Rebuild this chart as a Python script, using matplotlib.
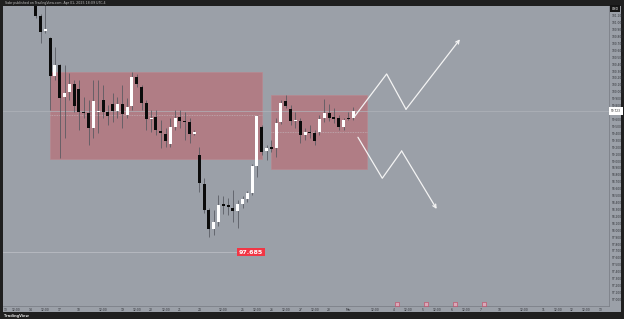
import numpy as np
import matplotlib
matplotlib.use("Agg")
import matplotlib.pyplot as plt
from matplotlib.patches import Rectangle

# 4h candles, oldest first
opens = [101.37, 101.096, 100.879, 100.778, 100.229, 100.388, 99.925, 99.998, 100.113, 100.041,
         99.709, 99.694, 99.477, 99.709, 99.882, 99.709, 99.824, 99.723, 99.824, 99.665,
         99.795, 100.214, 100.07, 99.839, 99.608, 99.636, 99.434, 99.391, 99.246, 99.492,
         99.636, 99.579, 99.564, 99.391, 99.087, 98.668, 98.292, 98.018, 98.119, 98.379,
         98.365, 98.321, 98.278, 98.379, 98.451, 98.538, 98.928, 99.492, 99.145, 99.203,
         99.188, 99.564, 99.868, 99.752, 99.579, 99.579, 99.376, 99.42, 99.405, 99.42,
         99.622, 99.694, 99.636, 99.622, 99.492, 99.622, 99.622]
highs = [101.40, 101.125, 101.255, 100.792, 100.648, 100.40, 100.388, 100.272, 100.171, 100.171,
         99.925, 99.882, 100.171, 100.171, 100.099, 99.81, 99.983, 99.925, 100.099, 99.911,
         100.287, 100.258, 100.099, 99.882, 99.738, 99.738, 99.593, 99.477, 99.622, 99.738,
         99.738, 99.709, 99.622, 99.449, 99.203, 98.755, 98.321, 98.292, 98.509, 98.495,
         98.466, 98.581, 98.437, 98.495, 98.567, 98.957, 99.665, 99.52, 99.232, 99.304,
         99.622, 99.882, 99.954, 99.81, 99.709, 99.622, 99.477, 99.52, 99.449, 99.665,
         99.897, 99.824, 99.766, 99.665, 99.622, 99.709, 99.781]
lows = [101.067, 100.706, 100.85, 99.738, 100.171, 99.044, 99.333, 99.882, 99.709, 99.449,
        99.62, 99.232, 99.333, 99.405, 99.622, 99.52, 99.564, 99.622, 99.477, 99.622,
        99.738, 100.07, 99.738, 99.449, 99.42, 99.376, 99.188, 99.203, 99.203, 99.449,
        99.477, 99.305, 99.261, 99.376, 98.553, 98.25, 97.902, 97.931, 98.061, 98.235,
        98.22, 98.119, 98.032, 98.321, 98.408, 98.509, 98.769, 99.087, 99.015, 99.131,
        99.058, 99.535, 99.766, 99.52, 99.477, 99.261, 99.304, 99.333, 99.232, 99.376,
        99.564, 99.579, 99.55, 99.449, 99.449, 99.593, 99.593]
closes = [101.096, 100.865, 100.908, 100.229, 100.388, 99.911, 99.983, 100.113, 99.795, 99.709,
          99.694, 99.477, 99.868, 99.72, 99.709, 99.651, 99.723, 99.824, 99.68, 99.781,
          100.214, 100.113, 99.839, 99.608, 99.622, 99.449, 99.405, 99.29, 99.492, 99.622,
          99.579, 99.564, 99.391, 99.42, 98.683, 98.292, 98.018, 98.119, 98.365, 98.35,
          98.336, 98.278, 98.379, 98.451, 98.538, 98.928, 99.651, 99.131, 99.188, 99.174,
          99.55, 99.839, 99.795, 99.579, 99.593, 99.376, 99.42, 99.405, 99.29, 99.608,
          99.694, 99.622, 99.608, 99.492, 99.593, 99.608, 99.723]

# drawn zones: (x0, x1, top, bottom) in candle index / price
range_zone = (2.97, 47.05, 100.287, 99.029)
box_zone = (49.02, 68.98, 99.947, 98.881)

# projected paths (candle index, price)
up_x = [66.17, 72.97, 76.99, 88.21]
up_y = [99.632, 100.258, 99.748, 100.759]
down_x = [67.0, 72.06, 76.09, 83.37]
down_y = [99.343, 98.751, 99.145, 98.307]

low_mark = 97.685
low_mark_end = 42.06
flag_x = [75.1, 81.1, 87.1, 93.2]

time_ticks = [-6.3, -4, -1, 2, 5, 9, 14, 18, 21, 24, 27, 30, 34, 39, 43, 46, 49, 52, 55, 58,
              61, 65, 70.5, 74.5, 77.5, 80.5, 83.5, 86.5, 89.5, 92.5, 96.5, 101.5, 105.5,
              108.5, 111.5, 114.5, 117.5]
time_labels = ["13", "12:00", "14", "12:00", "17", "18", "12:00", "19", "12:00", "20", "12:00",
               "21", "24", "12:00", "25", "12:00", "26", "12:00", "27", "12:00", "28", "Mar",
               "12:00", "4", "12:00", "5", "12:00", "6", "12:00", "7", "10", "12:00", "11",
               "12:00", "12", "12:00", "13"]

BG = "#9ba0a8"
DARK = "#1f1f1f"
W, H = 624, 319

fig = plt.figure(figsize=(W / 100, H / 100), dpi=100)
fig.patch.set_facecolor(DARK)

# gray panel incl. price / time scale
fig.patches.append(Rectangle((3 / W, 7 / H), 618 / W, 306 / H, transform=fig.transFigure,
                             facecolor=BG, edgecolor="none", zorder=-5))

ax = fig.add_axes([3 / W, 13 / H, 606 / W, 300 / H])
ax.set_zorder(2)
ax.set_facecolor(BG)
ax.set_xlim(-6.8, 119.2)
ax.set_ylim(96.905, 101.24)
for side in ["top", "left"]:
    ax.spines[side].set_visible(False)
ax.spines["right"].set_color("#7c8088")
ax.spines["bottom"].set_color("#7c8088")
ax.spines["right"].set_linewidth(0.6)
ax.spines["bottom"].set_linewidth(0.6)

last = closes[-1]

# price scale (the label under the live price tag is hidden, as on TradingView)
yt = np.round(np.arange(97.0, 101.15, 0.1), 1)
yt = yt[np.abs(yt - last) > 0.05]
ax.yaxis.tick_right()
ax.set_yticks(yt)
ax.yaxis.set_major_formatter(matplotlib.ticker.FormatStrFormatter("%.3f"))
ax.tick_params(axis="y", labelsize=2.1, length=0, pad=2.0, labelcolor="#2e3035")
ax.set_xticks(time_ticks)
ax.set_xticklabels(time_labels)
ax.tick_params(axis="x", labelsize=2.2, length=0, pad=1.2, labelcolor="#2e3035")

# zones
for x0, x1, top, bot in [range_zone, box_zone]:
    ax.add_patch(Rectangle((x0, bot), x1 - x0, top - bot, facecolor="#b07d85",
                           edgecolor="#b98890", linewidth=0.5, zorder=1))
    mid = (top + bot) / 2
    ax.plot([x0, x1], [mid, mid], color="#c4b6bb", lw=0.5, ls=(0, (1.2, 1.2)), zorder=1.5)

# last price line
ax.axhline(last, color="#b0b3ba", lw=0.5, zorder=1.6)

# candles
width = 0.62
for i, (o, h, l, c) in enumerate(zip(opens, highs, lows, closes)):
    ax.vlines(i, l, h, color="#55585f", lw=0.55, zorder=2)
    body = max(abs(c - o), 0.018)
    col = "#ffffff" if c >= o else "#0b0b0b"
    ax.bar(i, body, bottom=min(o, c), width=width, color=col, linewidth=0, zorder=3)

# projected paths
for xs, ys in [(up_x, up_y), (down_x, down_y)]:
    ax.plot(xs[:-1], ys[:-1], color="#f4f4f4", lw=0.9, zorder=4, solid_capstyle="round")
    ax.annotate("", xy=(xs[-1], ys[-1]), xytext=(xs[-2], ys[-2]),
                arrowprops=dict(arrowstyle="->", color="#f4f4f4", lw=0.9,
                                mutation_scale=6, shrinkA=0, shrinkB=0), zorder=4)

# low marker line with label
ax.plot([ax.get_xlim()[0], low_mark_end], [low_mark, low_mark], color="#b9bcc3", lw=0.6, zorder=1.6)
ax.text(low_mark_end + 0.1, low_mark, f"{low_mark:.3f}", fontsize=4.6, color="white",
        fontweight="bold", ha="left", va="center", zorder=5,
        bbox=dict(boxstyle="square,pad=0.3", facecolor="#f23645", edgecolor="none"))

# event flags on the time axis
ax.plot(flag_x, [96.94] * len(flag_x), ls="none", marker="s", markersize=2.2,
        markerfacecolor="#d9a9b8", markeredgecolor="#c2425e", markeredgewidth=0.4, zorder=5)

# current price tag on the scale
ax.text(1.003, last, f"{last:.3f}", transform=ax.get_yaxis_transform(), fontsize=2.1,
        color="#222", ha="left", va="center", clip_on=False, zorder=6,
        bbox=dict(boxstyle="square,pad=0.7", facecolor="white", edgecolor="none"))

# currency box, header and footer
fig.text(615 / W, 1 - 8.5 / H, "USD", fontsize=2.3, color="white", ha="center", va="center",
         bbox=dict(boxstyle="square,pad=0.5", facecolor="#151515", edgecolor="none"))
fig.text(5 / W, 1 - 3.2 / H, "Sabr published on TradingView.com, Apr 01, 2025 18:09 UTC-4",
         fontsize=2.3, color="#bdbdbd", ha="left", va="center")
fig.text(4 / W, 3 / H, "TradingView", fontsize=2.6, color="#d8d8d8", ha="left",
         va="center", fontweight="bold")

fig.savefig("out.png", dpi=100, facecolor=fig.get_facecolor())
